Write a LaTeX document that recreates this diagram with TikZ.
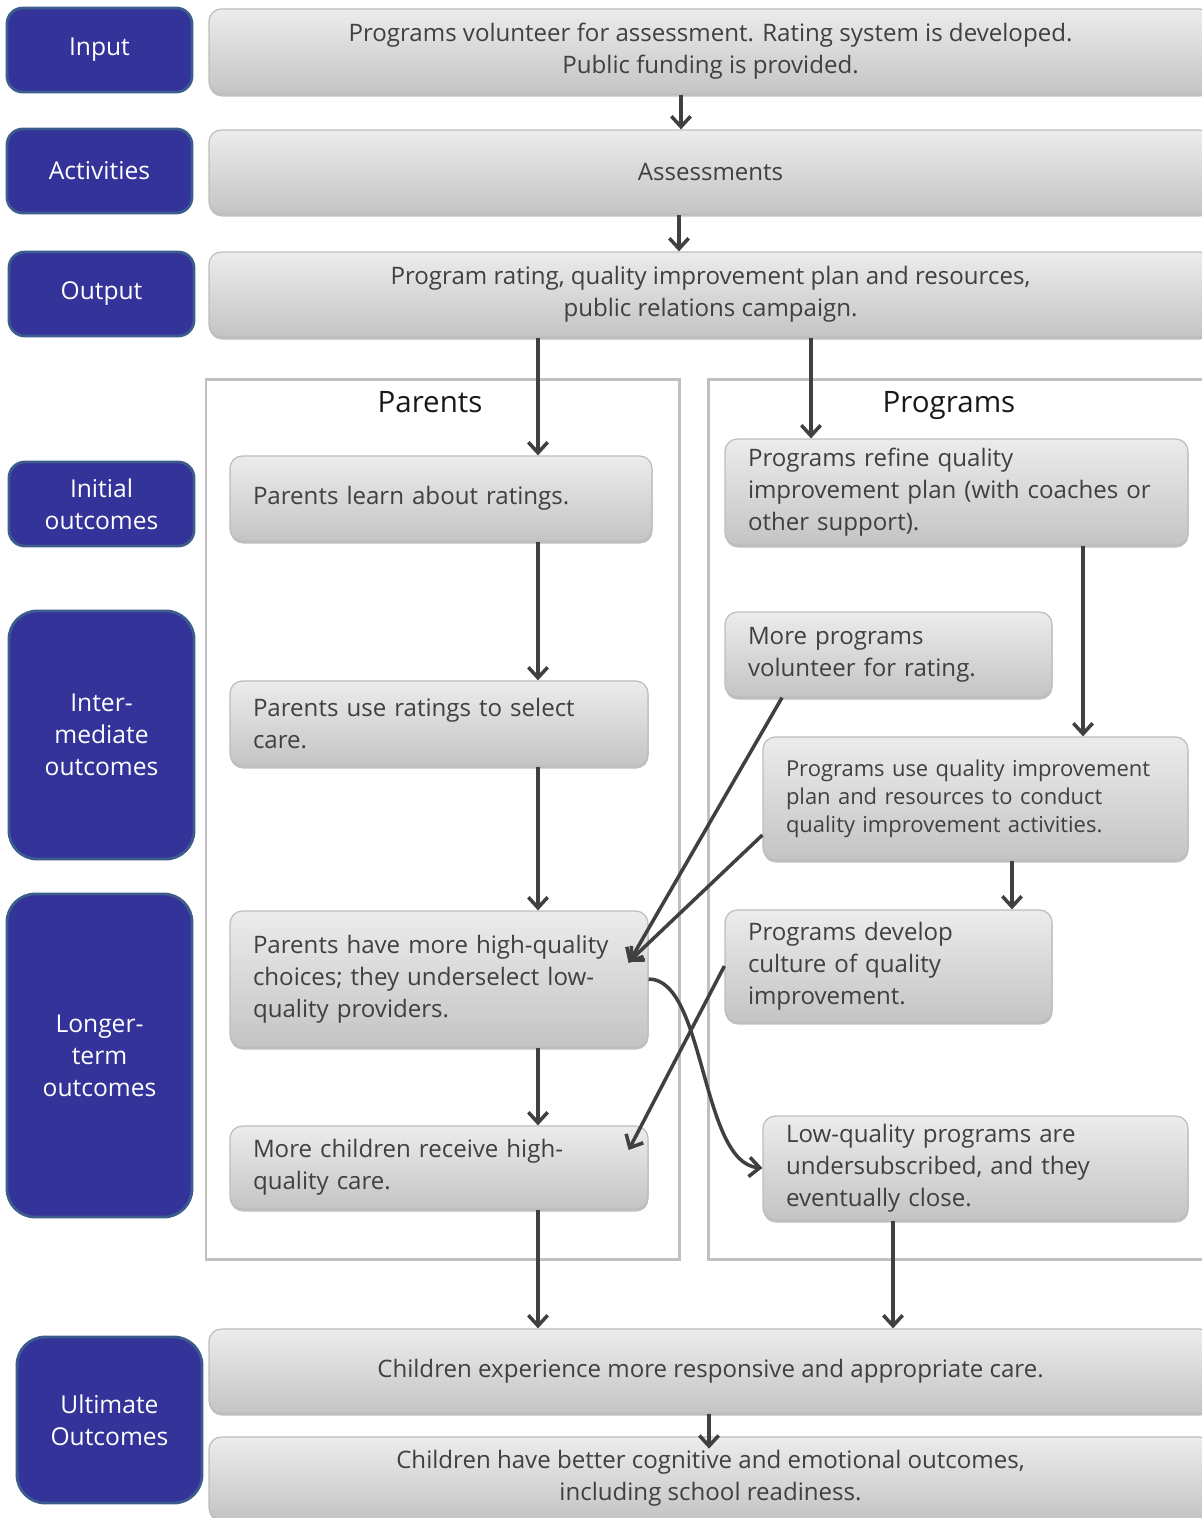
\documentclass[tikz,border=0pt]{standalone}
\usepackage{fontspec}
\setmainfont{Open Sans}
\usetikzlibrary{arrows.meta,shadows,positioning}
\definecolor{labblue}{HTML}{333399}
\definecolor{labedge}{HTML}{3B5C8C}
\definecolor{boxedge}{HTML}{BDBDBD}
\definecolor{boxtop}{HTML}{ECECEC}
\definecolor{boxbot}{HTML}{C4C4C4}
\definecolor{ink}{HTML}{404040}
\definecolor{framegray}{HTML}{C0C0C0}

\begin{document}
\begin{tikzpicture}[
  lab/.style={draw=labedge,line width=1.6pt,fill=labblue,text=white,rounded corners=9pt,
    minimum width=3.7cm,align=center,inner sep=2pt,font=\fontsize{14}{18.2}\selectfont},
  band/.style={draw=boxedge,line width=0.7pt,top color=boxtop,bottom color=boxbot,
    rounded corners=7pt,minimum width=20.06cm,text=ink,align=center,
    font=\fontsize{13.7}{18.2}\selectfont,
    drop shadow={shadow xshift=0.01cm,shadow yshift=-0.05cm,fill=black,opacity=0.25}},
  cbox/.style={band,minimum width=0pt,align=left,inner xsep=0.46cm,inner ysep=2pt},
  panel/.style={draw=framegray,line width=1.7pt,inner sep=0pt},
  heading/.style={anchor=base,font=\fontsize{16.8}{20}\selectfont,text=black!90},
  flow/.style={draw=ink,line width=2pt,-{Straight Barb[length=6pt,width=11pt]}}
]
\clip (0,0) rectangle (24.04,-30.36);

% row labels
\node[lab,minimum height=1.68cm] (input) at (1.99,-1.00) {Input};
\node[lab,minimum height=1.68cm] (activities) at (1.99,-3.42) {Activities};
\node[lab,minimum height=1.68cm] (output) at (2.03,-5.88) {Output};
\node[lab,minimum height=1.68cm] (initial) at (2.03,-10.08) {Initial\\outcomes};
\node[lab,minimum height=4.96cm,rounded corners=16pt] (inter) at (2.03,-14.70) {Inter-\\mediate\\outcomes};
\node[lab,minimum height=6.46cm,rounded corners=16pt] (longer) at (1.99,-21.11) {Longer-\\term\\outcomes};
\node[lab,minimum height=3.32cm,rounded corners=16pt] (ultimate) at (2.19,-28.40) {Ultimate\\Outcomes};

% full width rows
\node[band,minimum height=1.70cm] (w1) at (14.21,-1.03) {Programs volunteer for assessment. Rating system is developed.\\Public funding is provided.};
\node[band,minimum height=1.68cm] (w2) at (14.21,-3.44) {Assessments};
\node[band,minimum height=1.70cm] (w3) at (14.21,-5.89) {Program rating, quality improvement plan and resources,\\public relations campaign.};
\node[band,minimum height=1.68cm] (w4) at (14.21,-27.42) {Children experience more responsive and appropriate care.};
\node[band,minimum height=1.66cm] (w5) at (14.21,-29.57) {Children have better cognitive and emotional outcomes,\\including school readiness.};

% the two columns
\node[panel,minimum width=9.46cm,minimum height=17.6cm] (parents) at (8.85,-16.38) {};
\node[panel,minimum width=10.14cm,minimum height=17.6cm] (programs) at (19.23,-16.38) {};
\node[heading] (ptitle) at (8.60,-8.24) {Parents};
\node[heading] (rtitle) at (18.98,-8.24) {Programs};

% parents column
\node[cbox,text width=7.52cm,minimum height=1.70cm] (p1) at (8.82,-9.97) {Parents learn about ratings.};
\node[cbox,text width=7.44cm,minimum height=1.70cm] (p2) at (8.78,-14.47) {Parents use ratings to select\\care.};
\node[cbox,text width=7.44cm,minimum height=2.72cm] (p3) at (8.78,-19.58) {Parents have more high-quality\\choices; they underselect low-\\quality providers.};
\node[cbox,text width=7.44cm,minimum height=1.66cm] (p4) at (8.78,-23.35) {More children receive high-\\quality care.};

% programs column
\node[cbox,text width=8.34cm,minimum height=2.12cm] (r1) at (19.13,-9.84) {Programs refine quality\\improvement plan (with coaches or\\other support).};
\node[cbox,text width=5.62cm,minimum height=1.70cm] (r2) at (17.77,-13.09) {More programs\\volunteer for rating.};
\node[cbox,text width=7.58cm,minimum height=2.46cm,font=\fontsize{12.5}{16}\selectfont] (r3) at (19.51,-15.97) {Programs use quality improvement\\plan and resources to conduct\\quality improvement activities.};
\node[cbox,text width=5.62cm,minimum height=2.24cm] (r4) at (17.77,-19.32) {Programs develop\\culture of quality\\improvement.};
\node[cbox,text width=7.58cm,minimum height=2.08cm] (r5) at (19.51,-23.36) {Low-quality programs are\\undersubscribed, and they\\eventually close.};

% arrow columns
\coordinate (colA) at (13.62,0);
\coordinate (colB) at (13.58,0);
\coordinate (colP) at (10.76,0);
\coordinate (colQ) at (16.22,0);
\coordinate (colR) at (21.66,0);
\coordinate (colS) at (20.24,0);
\coordinate (colT) at (17.86,0);
\coordinate (colU) at (14.18,0);

\draw[flow] (w1.south -| colA) -- (w2.north -| colA);
\draw[flow] (w2.south -| colB) -- (w3.north -| colB);
\draw[flow] (w3.south -| colP) -- (p1.north -| colP);
\draw[flow] (w3.south -| colQ) -- (r1.north -| colQ);
\draw[flow] (p1.south -| colP) -- (p2.north -| colP);
\draw[flow] (p2.south -| colP) -- (p3.north -| colP);
\draw[flow] (p3.south -| colP) -- (p4.north -| colP);
\draw[flow] (p4.south -| colP) -- (w4.north -| colP);
\draw[flow] (r1.south -| colR) -- (r3.north -| colR);
\draw[flow] (r3.south -| colS) -- (r4.north -| colS);
\draw[flow] (r5.south -| colT) -- (w4.north -| colT);
\draw[flow] (w4.south -| colU) -- ++(0,-0.7);
\draw[flow] ([xshift=-2.13cm]r2.south) -- ([xshift=-0.4cm,yshift=0.32cm]p3.east);
\draw[flow] ([yshift=-0.73cm]r3.west) -- ([xshift=-0.4cm,yshift=0.34cm]p3.east);
\draw[flow] (r4.west) -- ([xshift=-0.4cm,yshift=0.35cm]p4.east);
\draw[flow] (p3.east) .. controls +(1.14,0) and +(-1.24,0.1) .. (r5.west);
\end{tikzpicture}
\end{document}
